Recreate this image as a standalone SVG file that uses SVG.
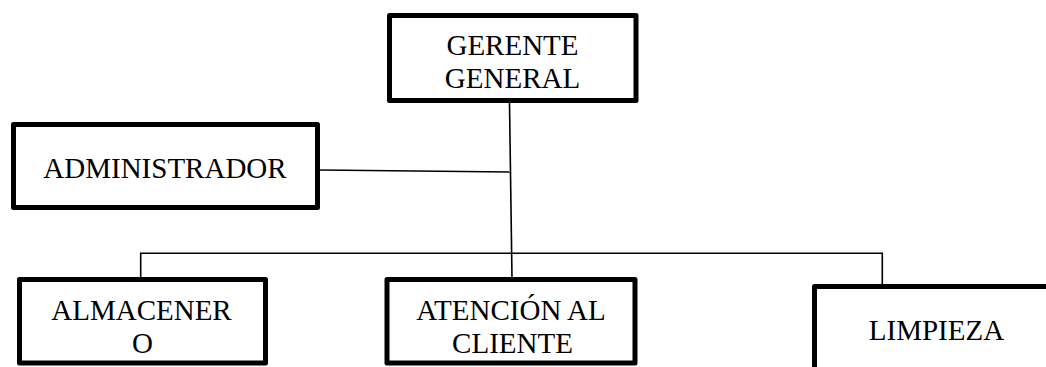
<svg xmlns="http://www.w3.org/2000/svg" width="1046" height="367" viewBox="0 0 1046 367">
<style>
.box{fill:#fff;stroke:#000;stroke-width:5;stroke-linejoin:round}
.t{font-family:"Liberation Serif","Times New Roman",serif;font-size:29px;fill:#000;text-anchor:middle}
.c{stroke:#000;stroke-width:1.6;fill:none}
</style>
<rect width="1046" height="367" fill="#fff"/>
<g id="connectors">
<line class="c" x1="509.5" y1="103" x2="512" y2="278"/>
<line class="c" x1="320" y1="170" x2="510.5" y2="172"/>
<polyline class="c" points="140.7,277 140.7,253.3 882.3,253.3 882.3,284"/>
</g>
<g id="gerente">
<rect class="box" x="389.5" y="15.5" width="246.5" height="85"/>
<text class="t" x="512.5" y="55">GERENTE</text>
<text class="t" x="512.5" y="88">GENERAL</text>
</g>
<g id="administrador">
<rect class="box" x="13.5" y="124.5" width="304" height="83"/>
<text class="t" x="165" y="178">ADMINISTRADOR</text>
</g>
<g id="almacenero">
<rect class="box" x="19.5" y="279.5" width="246" height="83.5"/>
<text class="t" x="141.5" y="320">ALMACENER</text>
<text class="t" x="142.5" y="353">O</text>
</g>
<g id="atencion">
<rect class="box" x="387" y="279.5" width="248" height="83.5"/>
<text class="t" x="511" y="320">ATENCIÓN AL</text>
<text class="t" x="512.5" y="353">CLIENTE</text>
</g>
<g id="limpieza">
<rect class="box" x="814.5" y="286.5" width="260" height="120"/>
<text class="t" x="936.5" y="340">LIMPIEZA</text>
</g>
</svg>
